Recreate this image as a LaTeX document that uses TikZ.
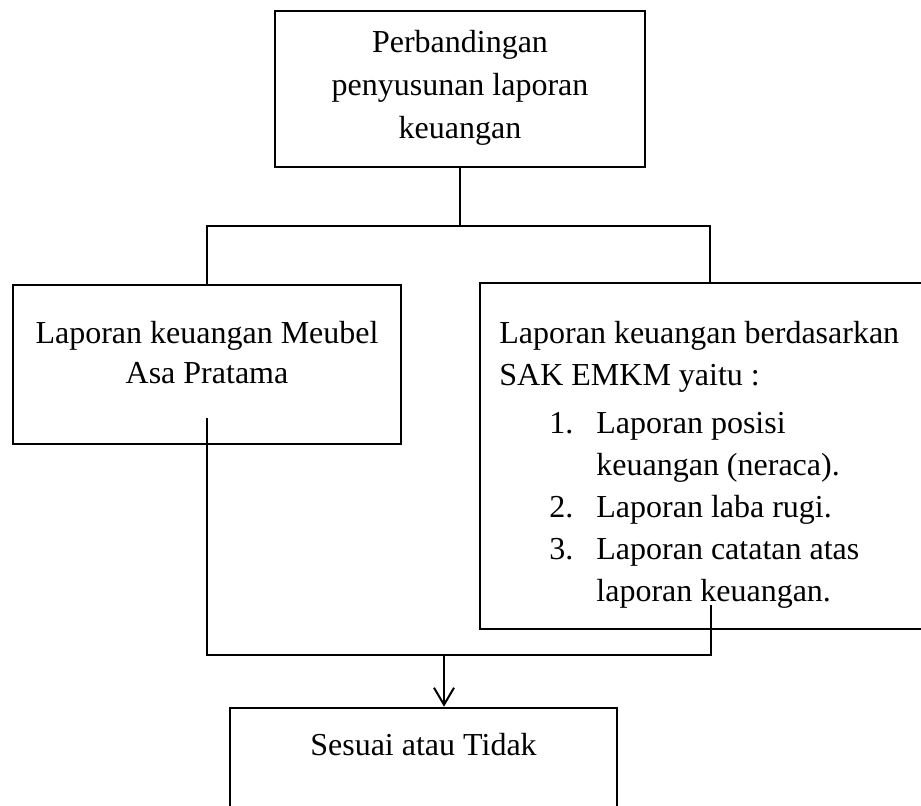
\documentclass[tikz,border=0pt]{standalone}
\usepackage{fontspec}
\setmainfont{Liberation Serif}
\usetikzlibrary{arrows.meta}
\tikzset{
    kotak/.style={draw, line width=1.3pt, inner sep=0pt},
    teks/.style={inner sep=0pt, font=\fontsize{16}{21}\selectfont},
    garis/.style={line width=1pt},
}
\begin{document}
\begin{tikzpicture}[x=0.5pt, y=-0.5pt]
        \useasboundingbox (0,0) rectangle (921,805);
        \node[kotak, minimum width=185pt, minimum height=78pt] (judul) at (460,89) {};
        \node[kotak, minimum width=194pt, minimum height=79.5pt] (meubel) at (207,364.5) {};
        \node[kotak, minimum width=230pt, minimum height=173pt] (sak) at (710,456) {};
        \node[kotak, minimum width=193.5pt, minimum height=75pt] (hasil) at (423.5,783) {};
        \node[teks, anchor=north, align=center, font=\fontsize{16}{21.5}\selectfont] (judulteks) at (460,30) {Perbandingan\\penyusunan laporan\\keuangan};
        \node[teks, anchor=north, align=center, font=\fontsize{16}{20}\selectfont] (meubelteks) at (207,321) {Laporan keuangan Meubel\\Asa Pratama};
        \node[teks, anchor=north west] (sakteks) at (499,313.6) {\begin{tabular}{@{\hspace{25pt}}p{23.5pt}@{}l@{}}
            \multicolumn{2}{@{}l@{}}{Laporan keuangan berdasarkan}\\
            \multicolumn{2}{@{}l@{}}{SAK EMKM yaitu :}\\[3pt]
            1. & Laporan posisi\\
               & keuangan (neraca).\\
            2. & Laporan laba rugi.\\
            3. & Laporan catatan atas\\
               & laporan keuangan.
        \end{tabular}};
        \node[teks, anchor=north] (hasilteks) at (423.5,733) {Sesuai atau Tidak};
        \coordinate (cabang) at (460,226);
        \coordinate (meubelkaki) at (207,418);
        \coordinate (sakkaki) at (711,605);
        \coordinate (gabung) at (444,655);
        \draw[garis] (judul.south) -- (cabang);
        \draw[garis] (meubel.north) |- (cabang) -| (sak.north);
        \draw[garis] (meubelkaki) |- (gabung) -| (sakkaki);
        \draw[garis, -{Straight Barb[length=8.5pt, width=10pt]}] (gabung) -- (gabung |- hasil.north);
    \end{tikzpicture}
\end{document}
